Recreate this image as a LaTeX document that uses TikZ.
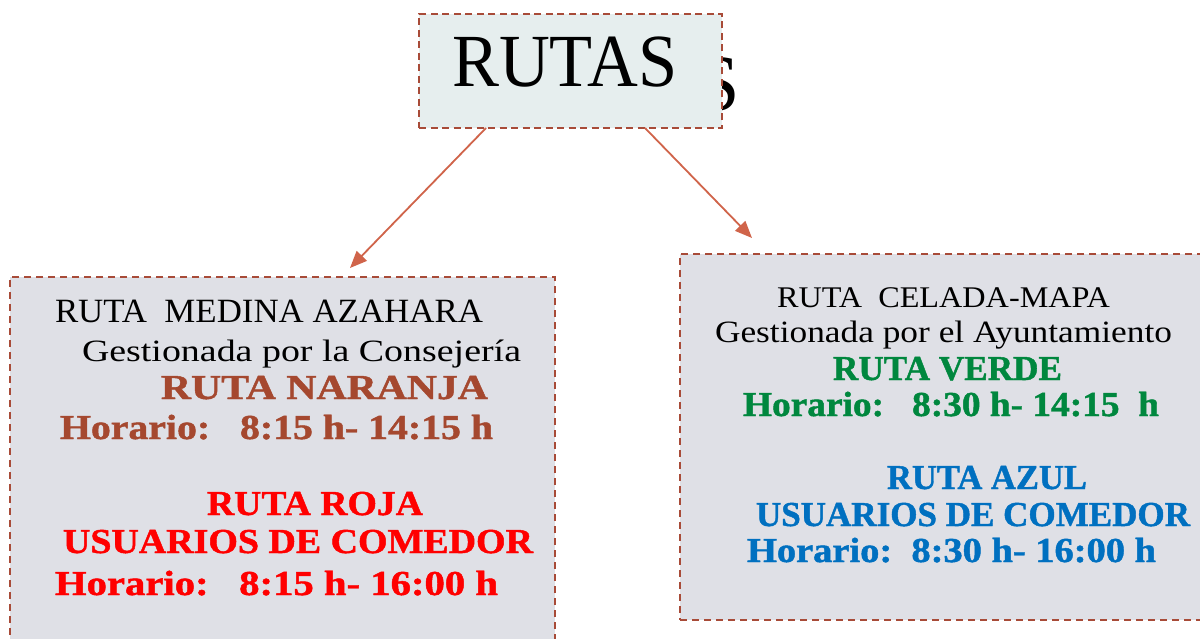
\documentclass[tikz,border=0pt]{standalone}
\usepackage{fontspec}
\usepackage{graphicx}
\setmainfont{Liberation Serif}[BoldFeatures={FakeBold=1.2}]
\usetikzlibrary{arrows.meta}
\definecolor{bordc}{HTML}{A84B38}
\definecolor{arrc}{HTML}{D0644A}
\definecolor{titlefill}{HTML}{E6EEEE}
\definecolor{boxfill}{HTML}{DFE0E6}
\definecolor{naranja}{HTML}{A5482F}
\definecolor{roja}{HTML}{FF0000}
\definecolor{verde}{HTML}{00873E}
\definecolor{azul}{HTML}{0070C0}
\newcommand{\fitline}[2]{\resizebox{#1}{\height}{#2}}
\tikzset{
  ln/.style={anchor=base west, inner sep=0pt, outer sep=0pt},
  reg/.style={ln, text=black, font=\fontsize{#1}{#1}\selectfont},
  bld/.style={ln, font=\fontsize{35}{35}\selectfont\bfseries},
  dashbox/.style={draw=bordc, line width=2.2pt, dash pattern=on 7pt off 5pt, inner sep=0pt, outer sep=0pt},
  arr/.style={draw=arrc, line width=1.8pt, -{Triangle[length=17pt,width=14pt]}},
}
\begin{document}
\begin{tikzpicture}[x=1pt,y=-1pt]
\useasboundingbox[fill=white] (0,0) rectangle (1200,639);
% ghost letter behind title
\node[font=\fontsize{80}{80}\selectfont, anchor=base east, inner sep=0pt] (ghost) at (740,111) {S};
% title
\node[dashbox, fill=titlefill, dash pattern=on 7pt off 4.5pt, minimum width=303pt, minimum height=114pt] (title) at (570.5,71) {};
\node[anchor=base west, inner sep=0pt, font=\fontsize{75}{75}\selectfont] (titletext) at (452,87) {\fitline{225pt}{RUTAS}};
% content boxes
\node[dashbox, fill=boxfill, minimum width=545pt, minimum height=383pt] (lbox) at (282.5,468.5) {};
\node[dashbox, fill=boxfill, minimum width=535pt, minimum height=366pt] (rbox) at (947.5,437) {};
% arrows
\coordinate (ltip) at (350,268);
\coordinate (rtip) at (752,238);
\draw[arr] ([xshift=-84.5pt]title.south) -- (ltip);
\draw[arr] ([xshift=74.5pt]title.south) -- (rtip);
% left box text
\node[reg=34] (l1) at (55,322) {\fitline{428pt}{RUTA\ \ MEDINA AZAHARA}};
\node[reg=31] (l2) at (82,361) {\fitline{439pt}{Gestionada por la Consejería}};
\node[bld, text=naranja] (l3) at (161,399) {\fitline{327pt}{RUTA NARANJA}};
\node[bld, text=naranja] (l4) at (60,439) {\fitline{433pt}{Horario:\ \ \ 8:15 h- 14:15 h}};
\node[bld, text=roja] (l5) at (207,515) {\fitline{216pt}{RUTA ROJA}};
\node[bld, text=roja] (l6) at (63,553) {\fitline{470pt}{USUARIOS DE COMEDOR}};
\node[bld, text=roja] (l7) at (55,595) {\fitline{443pt}{Horario:\ \ \ 8:15 h- 16:00 h}};
% right box text
\node[reg=30] (r1) at (777,307) {\fitline{333pt}{RUTA\ \ CELADA-MAPA}};
\node[reg=31] (r2) at (715,342) {\fitline{457pt}{Gestionada por el Ayuntamiento}};
\node[bld, text=verde] (r3) at (833,380) {\fitline{229pt}{RUTA VERDE}};
\node[bld, text=verde] (r4) at (743,416) {\fitline{416pt}{Horario:\ \ \ 8:30 h- 14:15\ \ h}};
\node[bld, text=azul] (r5) at (887,489) {\fitline{200pt}{RUTA AZUL}};
\node[bld, text=azul] (r6) at (756,526) {\fitline{434pt}{USUARIOS DE COMEDOR}};
\node[bld, text=azul] (r7) at (747,562) {\fitline{409pt}{Horario:\ \ 8:30 h- 16:00 h}};
\end{tikzpicture}
\end{document}
